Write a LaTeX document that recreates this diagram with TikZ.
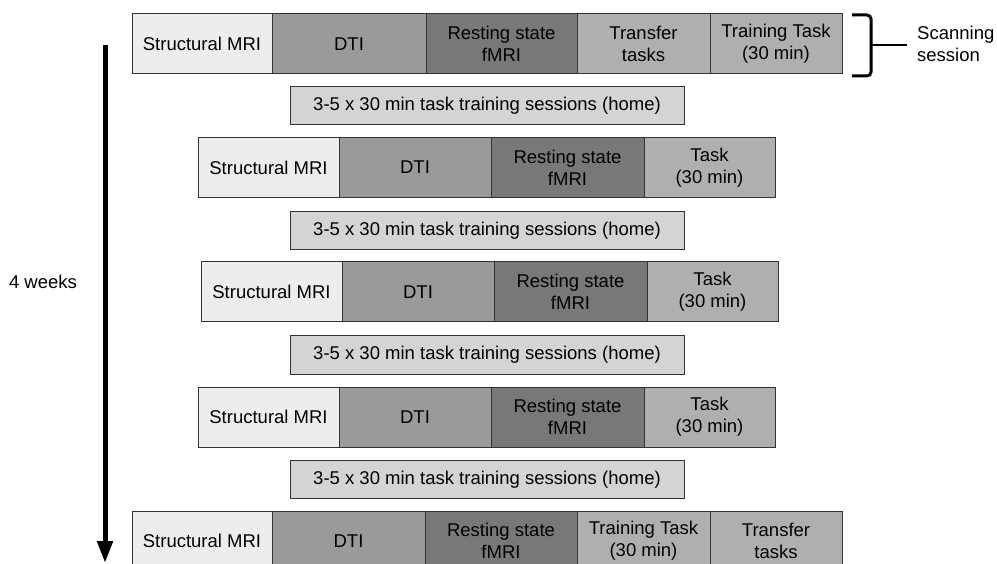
\documentclass[tikz,border=0pt]{standalone}
\usepackage{fontspec}
\setmainfont{Liberation Sans}
\usetikzlibrary{arrows.meta}
\definecolor{cStruct}{HTML}{EDEDED}
\definecolor{cDTI}{HTML}{9A9A9A}
\definecolor{cRest}{HTML}{787878}
\definecolor{cTask}{HTML}{AFAFAF}
\definecolor{cHome}{HTML}{D4D4D4}
\definecolor{cEdge}{HTML}{333333}
\begin{document}
\begin{tikzpicture}[x=1pt,y=-1pt,
  cell/.style={draw=cEdge, line width=1pt, inner sep=0pt, minimum height=60pt,
    align=center, font=\fontsize{18.5}{22}\selectfont, text=black},
  structcell/.style={cell, fill=cStruct},
  dticell/.style={cell, fill=cDTI},
  restcell/.style={cell, fill=cRest},
  taskcell/.style={cell, fill=cTask},
  homebox/.style={cell, fill=cHome, minimum width=394pt, minimum height=38pt},
  lbl/.style={font=\fontsize{18.5}{22}\selectfont, align=left, inner sep=0pt}]
\useasboundingbox (0,0) rectangle (997,564);
% Row 1
\node[structcell, minimum width=140pt] (r1a) at (202,44) {Structural MRI};
\node[dticell, minimum width=154pt] (r1b) at (349,44) {DTI};
\node[restcell, minimum width=151pt] (r1c) at (501.5,44) {Resting state\\fMRI};
\node[taskcell, minimum width=133pt] (r1d) at (643.5,44) {Transfer\\tasks};
\node[taskcell, minimum width=132pt] (r1e) at (776,44) {Training Task\\(30 min)};
% Home 1
\node[homebox] (h1) at (487,106) {3-5 x 30 min task training sessions (home)};
% Row 2
\node[structcell, minimum width=141pt] (r2a) at (268.5,167.5) {Structural MRI};
\node[dticell, minimum width=152pt] (r2b) at (415,167.5) {DTI};
\node[restcell, minimum width=153pt] (r2c) at (567.5,167.5) {Resting state\\fMRI};
\node[taskcell, minimum width=131pt] (r2d) at (709.5,167.5) {Task\\(30 min)};
% Home 2
\node[homebox] (h2) at (487,230.5) {3-5 x 30 min task training sessions (home)};
% Row 3
\node[structcell, minimum width=141pt] (r3a) at (271.5,292) {Structural MRI};
\node[dticell, minimum width=152pt] (r3b) at (418,292) {DTI};
\node[restcell, minimum width=153pt] (r3c) at (570.5,292) {Resting state\\fMRI};
\node[taskcell, minimum width=131pt] (r3d) at (712.5,292) {Task\\(30 min)};
% Home 3
\node[homebox] (h3) at (487,355) {3-5 x 30 min task training sessions (home)};
% Row 4
\node[structcell, minimum width=141pt] (r4a) at (268.5,417) {Structural MRI};
\node[dticell, minimum width=152pt] (r4b) at (415,417) {DTI};
\node[restcell, minimum width=153pt] (r4c) at (567.5,417) {Resting state\\fMRI};
\node[taskcell, minimum width=131pt] (r4d) at (709.5,417) {Task\\(30 min)};
% Home 4
\node[homebox] (h4) at (487,479.5) {3-5 x 30 min task training sessions (home)};
% Row 5
\node[structcell, minimum width=140pt] (r5a) at (202,541) {Structural MRI};
\node[dticell, minimum width=153pt] (r5b) at (348.5,541) {DTI};
\node[restcell, minimum width=152pt] (r5c) at (501,541) {Resting state\\fMRI};
\node[taskcell, minimum width=133pt] (r5d) at (643.5,541) {Training Task\\(30 min)};
\node[taskcell, minimum width=132pt] (r5e) at (776,541) {Transfer\\tasks};
% Brace
\coordinate (brTopL) at (852,15);
\coordinate (brTopR) at (871,15);
\coordinate (brBotL) at (852,76);
\coordinate (brBotR) at (871,76);
\coordinate (brMid) at (871,45);
\coordinate (brTip) at (907,45);
\draw[line width=3pt, rounded corners=4pt] (brTopL) -- (brTopR) -- (brBotR) -- (brBotL);
\draw[line width=2.5pt] (brMid) -- (brTip);
\node[lbl, anchor=west] (scan) at (917,44) {Scanning\\session};
% Time arrow
\coordinate (arrTop) at (105,45);
\coordinate (arrBot) at (105,563);
\draw[line width=5pt, -{Triangle[length=22pt,width=15pt]}] (arrTop) -- (arrBot);
\node[lbl] (weeks) at (43,282) {4 weeks};
\end{tikzpicture}
\end{document}
